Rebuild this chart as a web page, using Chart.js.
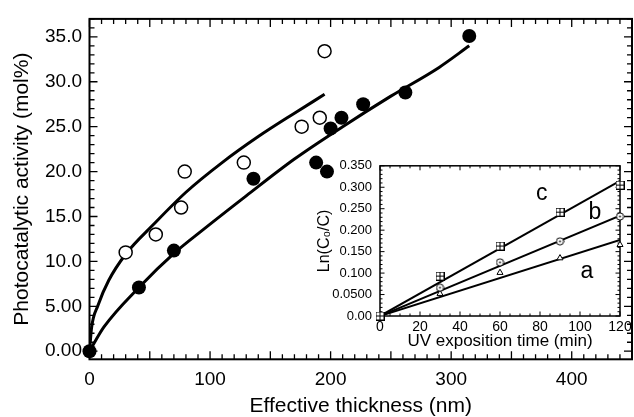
<!DOCTYPE html>
<html lang="en">
<head>
<meta charset="UTF-8">
<title>Photocatalytic activity vs effective thickness</title>
<script src="https://cdn.jsdelivr.net/npm/chart.js"></script>
<style>
  html, body { margin: 0; padding: 0; background: #fff; overflow: hidden; }
  #wrap { position: relative; width: 640px; height: 417px; }
  #mainChart { position: absolute; left: 0; top: 0; }
  #insetChart { position: absolute; left: 300px; top: 150px; }
</style>
</head>
<body>
<div id="wrap">
  <canvas id="mainChart" width="640" height="417"></canvas>
  <canvas id="insetChart" width="334" height="200"></canvas>
</div>
<script>
// main plot: open circles
const openX = [30, 55, 76, 79, 128, 176, 191, 195];
const openY = [11.0, 13.0, 16.0, 20.0, 21.0, 25.0, 26.0, 33.4];
// main plot: filled circles
const filledX = [0, 41, 70, 136, 188, 197, 200, 209, 227, 262, 315];
const filledY = [0, 7.1, 11.2, 19.2, 21.0, 20.0, 24.8, 26.0, 27.5, 28.8, 35.1];
// fitted curves
const upperFitX = [0, 1.8, 7, 16, 30, 53, 80, 110, 140, 170, 195];
const upperFitY = [0, 2.7, 5.1, 7.9, 10.8, 14.1, 17.7, 21.0, 23.9, 26.5, 28.6];
const lowerFitX = [0, 12, 41, 71, 93, 130, 170, 210, 250, 290, 315];
const lowerFitY = [0, 2.7, 7.1, 11.0, 13.4, 17.3, 21.4, 25.0, 28.4, 31.6, 34.0];
const mainXTicks = [0, 100, 200, 300, 400];
const mainYTicks = [0, 5, 10, 15, 20, 25, 30, 35];

// inset: ln(C0/C) vs UV time
const uvTime = [0, 30, 60, 90, 120];
const lnA = [0, 0.052, 0.101, 0.135, 0.166];
const lnB = [0, 0.066, 0.125, 0.174, 0.232];
const lnC = [0, 0.093, 0.163, 0.242, 0.305];
const fitTime = [0, 120];
const fitA = [0, 0.177];
const fitB = [0, 0.234];
const fitC = [0, 0.315];
const insetXTicks = [0, 20, 40, 60, 80, 100, 120];
const insetYTicks = [0, 0.05, 0.1, 0.15, 0.2, 0.25, 0.3, 0.35];
const curveNames = ['a', 'b', 'c'];
const curveNameX = [103.4, 107.5, 80.9];
const curveNameY = [0.103, 0.241, 0.284];

Chart.defaults.font.family = '"Liberation Sans", Arial, Helvetica, sans-serif';
Chart.defaults.color = '#000';

const pts = (xs, ys) => xs.map((v, i) => ({ x: v, y: ys[i] }));

// box around the plot with inward ticks on all four sides
const framePlugin = {
  id: 'frame',
  beforeDatasetsDraw(chart, args, o) {
    const { ctx, chartArea: a, scales: { x, y } } = chart;
    const isMajor = (v, step) => Math.abs(v / step - Math.round(v / step)) < 1e-6;
    ctx.save();
    ctx.strokeStyle = '#000';
    ctx.lineWidth = o.tickWidth;
    ctx.beginPath();
    const nx = Math.round((x.max - x.min) / o.xMinor);
    for (let i = 0; i <= nx; i++) {
      const v = x.min + i * o.xMinor;
      const px = x.getPixelForValue(v);
      const len = isMajor(v, o.xMajor) ? o.majorLen : o.minorLen;
      ctx.moveTo(px, a.bottom); ctx.lineTo(px, a.bottom - len);
      ctx.moveTo(px, a.top); ctx.lineTo(px, a.top + len);
    }
    const y0 = Math.ceil(y.min / o.yMinor - 1e-6);
    const y1 = Math.floor(y.max / o.yMinor + 1e-6);
    for (let i = y0; i <= y1; i++) {
      const v = i * o.yMinor;
      const py = y.getPixelForValue(v);
      const len = isMajor(v, o.yMajor) ? o.majorLen : o.minorLen;
      ctx.moveTo(a.left, py); ctx.lineTo(a.left + len, py);
      ctx.moveTo(a.right, py); ctx.lineTo(a.right - len, py);
    }
    ctx.stroke();
    ctx.lineWidth = o.spineWidth;
    ctx.strokeRect(a.left, a.top, a.right - a.left, a.bottom - a.top);
    ctx.restore();
  }
};

// a, b, c next to the inset lines
const namePlugin = {
  id: 'names',
  afterDatasetsDraw(chart, args, o) {
    if (!o.text) return;
    const { ctx, scales: { x, y } } = chart;
    ctx.save();
    ctx.fillStyle = '#000';
    ctx.font = o.size + 'px "Liberation Sans", Arial, sans-serif';
    ctx.textAlign = 'center';
    ctx.textBaseline = 'middle';
    o.text.forEach((t, i) => ctx.fillText(t, x.getPixelForValue(o.xs[i]), y.getPixelForValue(o.ys[i])));
    ctx.restore();
  }
};

// marker images for the inset
function squarePlus() {
  const c = document.createElement('canvas');
  c.width = 9; c.height = 9;
  const g = c.getContext('2d');
  g.fillStyle = '#fff'; g.fillRect(0.5, 0.5, 8, 8);
  g.strokeStyle = '#000'; g.lineWidth = 1;
  g.strokeRect(0.5, 0.5, 8, 8);
  g.beginPath(); g.moveTo(4.5, 0.5); g.lineTo(4.5, 8.5); g.moveTo(0.5, 4.5); g.lineTo(8.5, 4.5); g.stroke();
  return c;
}
function circleDot() {
  const c = document.createElement('canvas');
  c.width = 9; c.height = 9;
  const g = c.getContext('2d');
  g.fillStyle = '#fff'; g.strokeStyle = '#000'; g.lineWidth = 1;
  g.beginPath(); g.arc(4.5, 4.5, 3.6, 0, Math.PI * 2); g.fill(); g.stroke();
  g.fillStyle = '#000';
  g.beginPath(); g.arc(4.5, 4.5, 0.9, 0, Math.PI * 2); g.fill();
  return c;
}

new Chart(document.getElementById('mainChart'), {
  type: 'scatter',
  data: {
    datasets: [
      { data: pts(openX, openY), pointRadius: 6.5, pointBackgroundColor: '#fff',
        pointBorderColor: '#000', pointBorderWidth: 1.5, showLine: false, clip: false },
      { data: pts(filledX, filledY), pointRadius: 7, pointBackgroundColor: '#000',
        pointBorderColor: '#000', pointBorderWidth: 0, showLine: false, clip: false },
      { data: pts(upperFitX, upperFitY), showLine: true, pointRadius: 0, borderColor: '#000',
        borderWidth: 3, cubicInterpolationMode: 'monotone' },
      { data: pts(lowerFitX, lowerFitY), showLine: true, pointRadius: 0, borderColor: '#000',
        borderWidth: 3, cubicInterpolationMode: 'monotone' }
    ]
  },
  options: {
    responsive: false,
    animation: false,
    events: [],
    layout: { padding: { top: 12.5, right: 3, left: 0, bottom: 0 } },
    plugins: {
      legend: { display: false },
      tooltip: { enabled: false },
      frame: { xMinor: 10, xMajor: 50, yMinor: 1, yMajor: 5, majorLen: 8, minorLen: 5, tickWidth: 1.3, spineWidth: 2 }
    },
    scales: {
      x: {
        type: 'linear', min: 0, max: 450,
        grid: { display: false, drawTicks: false },
        border: { display: false },
        afterBuildTicks: s => { s.ticks = mainXTicks.map(v => ({ value: v })); },
        afterFit: s => { s.height = 57.7; },
        ticks: { font: { size: 19 }, padding: 9.5, maxRotation: 0, autoSkip: false },
        title: { display: true, text: 'Effective thickness (nm)', font: { size: 21, lineHeight: 1.0 }, padding: 0 }
      },
      y: {
        type: 'linear', min: -0.9, max: 37,
        grid: { display: false, drawTicks: false },
        border: { display: false },
        afterBuildTicks: s => { s.ticks = mainYTicks.map(v => ({ value: v })); },
        afterFit: s => { s.width = 89.5; },
        ticks: {
          font: { size: 19 }, padding: 7.5, autoSkip: false,
          callback: v => (v < 10 ? v.toFixed(2) : v.toFixed(1))
        },
        title: { display: true, text: 'Photocatalytic activity (mol%)', font: { size: 21, lineHeight: 1.2 }, padding: { top: 9.5 } }
      }
    }
  },
  plugins: [framePlugin]
});

const fitLine = ys => ({
  data: pts(fitTime, ys), showLine: true, pointRadius: 0, borderColor: '#000', borderWidth: 2
});

new Chart(document.getElementById('insetChart'), {
  type: 'scatter',
  data: {
    datasets: [
      { data: pts(uvTime, lnC), pointStyle: squarePlus(), showLine: false, clip: false },
      { data: pts(uvTime, lnB), pointStyle: circleDot(), showLine: false, clip: false },
      { data: pts(uvTime, lnA), pointStyle: 'triangle', pointRadius: 3.5, pointBackgroundColor: '#fff',
        pointBorderColor: '#000', pointBorderWidth: 1, showLine: false, clip: false },
      fitLine(fitC),
      fitLine(fitB),
      fitLine(fitA)
    ]
  },
  options: {
    responsive: false,
    animation: false,
    events: [],
    layout: { padding: { top: 15, right: 14, left: 0, bottom: 0 } },
    plugins: {
      legend: { display: false },
      tooltip: { enabled: false },
      frame: { xMinor: 5, xMajor: 20, yMinor: 0.01, yMajor: 0.05, majorLen: 4.5, minorLen: 2.5, tickWidth: 1, spineWidth: 1.5 },
      names: { text: curveNames, xs: curveNameX, ys: curveNameY, size: 23 }
    },
    scales: {
      x: {
        type: 'linear', min: 0, max: 120,
        grid: { display: false, drawTicks: false },
        border: { display: false },
        afterBuildTicks: s => { s.ticks = insetXTicks.map(v => ({ value: v })); },
        afterFit: s => { s.height = 34; },
        ticks: { font: { size: 14 }, padding: 2.3, maxRotation: 0, autoSkip: false },
        title: { display: true, text: 'UV exposition time (min)', font: { size: 17, lineHeight: 1.0 }, padding: 0.5 }
      },
      y: {
        type: 'linear', min: 0, max: 0.35,
        grid: { display: false, drawTicks: false },
        border: { display: false },
        afterBuildTicks: s => { s.ticks = insetYTicks.map(v => ({ value: v })); },
        afterFit: s => { s.width = 80; },
        ticks: {
          font: { size: 13 }, padding: 8, autoSkip: false,
          callback: v => (v === 0 ? '0.00' : Math.abs(v - 0.05) < 1e-9 ? '0.0500' : v.toFixed(3))
        },
        title: { display: true, text: 'Ln(C\u2080/C)', font: { size: 16, lineHeight: 1.2 }, padding: { top: 15.4 } }
      }
    }
  },
  plugins: [framePlugin, namePlugin]
});
</script>
</body>
</html>
